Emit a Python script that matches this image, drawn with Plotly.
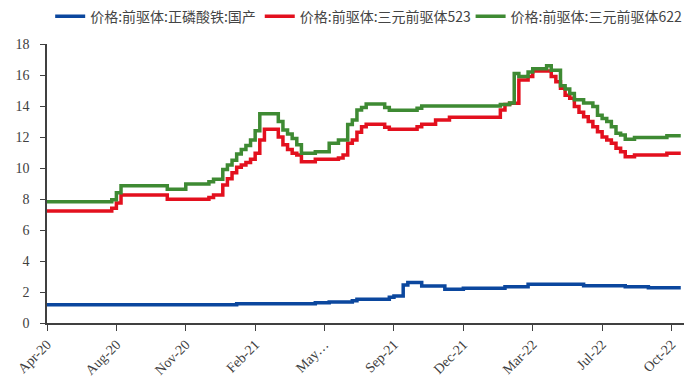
import plotly.graph_objects as go

# Weekly price index (week number) and price level, listed at each step change
lfp_week = [0, 41, 58, 61, 66, 67, 74, 75, 77, 78, 81, 86, 90, 99, 104, 116, 125, 130, 137]
lfp_price = [1.18, 1.24, 1.3, 1.35, 1.44, 1.53, 1.66, 1.74, 2.45, 2.62, 2.39, 2.17, 2.24, 2.34, 2.5, 2.4, 2.34, 2.28, 2.28]

ncm523_week = [0, 14, 15, 16, 26, 35, 36, 38, 39, 40, 41, 42, 43, 44, 45, 46, 47, 50, 51, 52, 53, 54, 55,
               58, 63, 64, 65, 66, 67, 68, 69, 73, 74, 80, 81, 84, 87, 98, 99, 100, 102, 104, 105, 109,
               110, 111, 112, 113, 114, 115, 116, 117, 118, 119, 120, 121, 122, 123, 124, 125, 127, 134, 137]
ncm523_price = [7.23, 7.4, 7.75, 8.26, 7.98, 8.1, 8.26, 8.9, 9.3, 9.7, 10.05, 10.2, 10.35, 10.56, 10.95,
                11.8, 12.5, 12.0, 11.5, 11.2, 10.95, 10.84, 10.4, 10.56, 10.65, 10.84, 11.6, 11.8, 12.3,
                12.66, 12.82, 12.63, 12.5, 12.66, 12.82, 13.1, 13.27, 13.74, 14.1, 14.17, 15.68, 15.9,
                16.26, 15.9, 15.57, 15.14, 14.7, 14.5, 13.96, 13.6, 13.3, 13.0, 12.66, 12.34, 12.0, 11.8,
                11.6, 11.27, 11.05, 10.73, 10.84, 10.95, 10.95]

ncm622_week = [0, 14, 15, 16, 26, 30, 35, 36, 38, 39, 40, 41, 42, 43, 44, 45, 46, 50, 51, 52, 53, 54, 55,
               58, 61, 63, 65, 66, 67, 68, 69, 73, 74, 80, 81, 98, 100, 101, 102, 104, 105, 108, 109,
               111, 112, 113, 114, 116, 118, 119, 120, 121, 122, 123, 124, 125, 127, 134, 137]
ncm622_price = [7.83, 7.95, 8.4, 8.86, 8.63, 8.97, 9.12, 9.27, 9.9, 10.2, 10.5, 10.9, 11.2, 11.45, 11.8,
                12.4, 13.5, 13.0, 12.45, 12.2, 11.9, 11.5, 10.95, 11.05, 11.6, 11.8, 12.8, 13.1, 13.74,
                13.9, 14.13, 13.9, 13.72, 13.85, 14.0, 14.1, 14.2, 16.1, 15.9, 16.2, 16.4, 16.6, 16.3,
                15.3, 15.1, 14.8, 14.4, 14.2, 13.96, 13.4, 13.2, 13.0, 12.66, 12.24, 12.13, 11.85, 11.96,
                12.08, 12.08]

# Category axis labels, one every 15 weeks
tick_weeks = [0, 15, 30, 45, 60, 75, 90, 105, 120, 135]
tick_labels = ["Apr-20", "Aug-20", "Nov-20", "Feb-21", "May…", "Sep-21", "Dec-21", "Mar-22", "Jul-22", "Oct-22"]

series = [
    ("价格:前驱体:正磷酸铁:国产", lfp_week, lfp_price, "#0B479E", "legend"),
    ("价格:前驱体:三元前驱体523", ncm523_week, ncm523_price, "#E3101E", "legend2"),
    ("价格:前驱体:三元前驱体622", ncm622_week, ncm622_price, "#3E8A33", "legend3"),
]

fig = go.Figure()
for name, wk, price, color, leg in series:
    fig.add_trace(go.Scatter(
        x=wk, y=price, name=name, mode="lines", legend=leg,
        line=dict(color=color, width=3.5, shape="hv"),
    ))

legend_font = dict(family="Noto Sans CJK SC", size=14, color="#444444")


def legend_box(x):
    return dict(orientation="h", x=x, xanchor="left", y=1.155, yanchor="top",
                font=legend_font, itemwidth=30, bgcolor="rgba(0,0,0,0)")


serif = "Liberation Serif, Times New Roman, serif"
fig.update_layout(
    width=684, height=389,
    margin=dict(l=47, r=0, t=44, b=66, autoexpand=False),
    paper_bgcolor="white", plot_bgcolor="white",
    showlegend=True,
    legend=legend_box(0.005),
    legend2=legend_box(0.334),
    legend3=legend_box(0.665),
    xaxis=dict(
        range=[0, 137.7], tickmode="array", tickvals=tick_weeks, ticktext=tick_labels,
        tickangle=-45, showgrid=False, zeroline=False,
        showline=True, linecolor="#404040", linewidth=1.5,
        ticks="outside", ticklen=6, tickcolor="#404040", tickwidth=1.2,
        tickfont=dict(family=serif, size=14, color="#404040"),
    ),
    yaxis=dict(
        range=[0, 18], dtick=2, showgrid=False, zeroline=False,
        showline=True, linecolor="#404040", linewidth=1.5,
        ticks="outside", ticklen=5, tickcolor="#404040", tickwidth=1.2,
        ticklabelstandoff=8,
        tickfont=dict(family=serif, size=14, color="#404040"),
    ),
)

fig.write_html("out.html")
